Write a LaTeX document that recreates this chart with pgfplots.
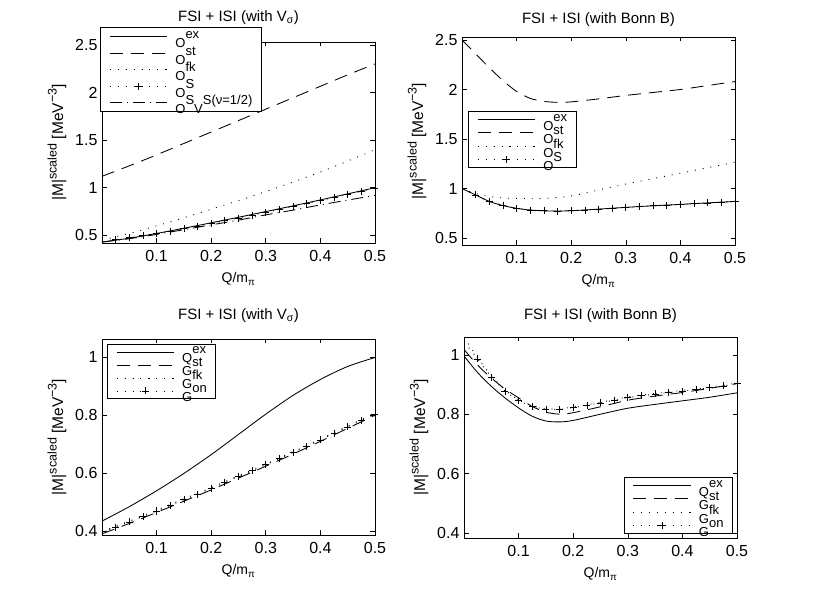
\documentclass[border=0pt]{standalone}
\usepackage{fontspec}
\setmainfont{Liberation Sans}
\usepackage{pgfplots}
\pgfplotsset{compat=1.18}
\newcommand{\legt}[2]{{\fontsize{13}{15}\selectfont\smash{\raisebox{-9pt}{#1}}#2}}
\newcommand{\ylab}{|M|\raisebox{0.42em}{\fontsize{12.5}{12.5}\selectfont scaled} [MeV\raisebox{0.42em}{\fontsize{12.5}{12.5}\selectfont −3}]}
\pgfplotsset{
  mstyle/.style={
    scale only axis, anchor=south west,
    xmin=0, xmax=0.5,
    xtick={0.1,0.2,0.3,0.4,0.5}, xticklabels={0.1,0.2,0.3,0.4,0.5},
    tick align=inside, major tick length=4.5pt,
    axis line style={line width=0.8pt},
    every tick/.style={black, line width=0.6pt},
    tick label style={font=\fontsize{16}{18}\selectfont},
    xticklabel shift=4pt, yticklabel shift=1pt,
    xlabel style={font=\fontsize{14}{16}\selectfont, yshift=-4pt},
    ylabel style={font=\fontsize{15.5}{17}\selectfont, yshift=2pt},
    title style={font=\fontsize{15}{17}\selectfont},
    xlabel={Q/m\textsubscript{π}},
    ylabel={\ylab},
    legend cell align=left,
    legend image code/.code={\draw[##1, mark repeat=2, mark phase=2] plot coordinates {(0pt,0pt) (28.5pt,0pt) (57pt,0pt)};},
    legend style={draw=black, line width=0.8pt, fill=white, inner xsep=9pt, inner ysep=1pt,
      row sep=0pt, column sep=8pt, font=\fontsize{13}{15}\selectfont},
  },
  sol/.style={black, line width=0.85pt, solid},
  dsh/.style={black, line width=0.85pt, dash pattern=on 13pt off 8pt},
  dtt/.style={black, line width=0.9pt, dash pattern=on 0.9pt off 7pt},
  ddt/.style={black, line width=0.85pt, dash pattern=on 12pt off 5pt on 1pt off 5pt},
  mrk/.style={black, line width=0.9pt, dash pattern=on 0.9pt off 7pt, mark=+, mark size=3.5pt,
    mark phase=2, mark options={solid, line width=0.7pt}},
}
\begin{document}
\begin{tikzpicture}
\path (0,0) rectangle (814pt,612pt);
% ---------------- top left
\begin{axis}[mstyle, at={(102pt,369pt)}, width=273pt, height=201pt,
  ymin=0.42, ymax=2.53, ytick={0.5,1,1.5,2,2.5}, yticklabels={0.5,1,1.5,2,2.5},
  title={FSI + ISI (with V\textsubscript{σ})}, title style={yshift=8pt},
  legend style={at={(-0.007,1.075)}, anchor=north west,
    nodes={inner sep=0pt, text height=10.25pt, text depth=6.25pt}}]
\addplot[sol, smooth] coordinates {(0,0.43)(0.05,0.47)(0.1,0.52)(0.15,0.575)(0.2,0.632)(0.25,0.69)(0.3,0.75)(0.35,0.81)(0.4,0.872)(0.45,0.936)(0.5,1.0)};
\addlegendentry{\legt{O}{ex}}
\addplot[dsh, smooth] coordinates {(0,1.12)(0.05,1.23)(0.1,1.345)(0.15,1.465)(0.2,1.585)(0.25,1.705)(0.3,1.825)(0.35,1.945)(0.4,2.065)(0.45,2.185)(0.5,2.30)};
\addlegendentry{\legt{O}{st}}
\addplot[dtt, smooth] coordinates {(0,0.45)(0.05,0.52)(0.1,0.6)(0.15,0.685)(0.2,0.775)(0.25,0.865)(0.3,0.96)(0.35,1.06)(0.4,1.165)(0.45,1.28)(0.5,1.40)};
\addlegendentry{\legt{O}{fk}}
\addplot[mrk] coordinates {(0,0.44)(0.025,0.455)(0.05,0.475)(0.075,0.497)(0.1,0.52)(0.125,0.545)(0.15,0.57)(0.175,0.597)(0.2,0.625)(0.225,0.653)(0.25,0.682)(0.275,0.712)(0.3,0.742)(0.325,0.772)(0.35,0.803)(0.375,0.835)(0.4,0.866)(0.425,0.898)(0.45,0.93)(0.475,0.962)(0.5,0.995)};
\addlegendentry{\legt{O}{S}}
\addplot[ddt, smooth] coordinates {(0,0.43)(0.05,0.465)(0.1,0.51)(0.15,0.56)(0.2,0.61)(0.25,0.66)(0.3,0.715)(0.35,0.765)(0.4,0.82)(0.45,0.87)(0.5,0.92)};
\addlegendentry{\legt{O}{S}\legt{V}{S(ν=1/2)}}
\end{axis}
% ---------------- top right
\begin{axis}[mstyle, at={(462pt,367pt)}, width=273pt, height=208pt,
  ymin=0.43, ymax=2.53, ytick={0.5,1,1.5,2,2.5}, yticklabels={0.5,1,1.5,2,2.5},
  title={FSI + ISI (with Bonn B)}, title style={yshift=1pt},
  legend style={at={(0.022,0.644)}, anchor=north west,
    nodes={inner sep=0pt, text height=8.75pt, text depth=4.75pt}}]
\addplot[sol, smooth] coordinates {(0,1.0)(0.025,0.935)(0.05,0.87)(0.075,0.828)(0.1,0.80)(0.125,0.783)(0.15,0.775)(0.175,0.773)(0.2,0.776)(0.25,0.792)(0.3,0.81)(0.35,0.826)(0.4,0.84)(0.45,0.855)(0.5,0.87)};
\addlegendentry{\legt{O}{ex}}
\addplot[dsh, smooth] coordinates {(0,2.5)(0.025,2.36)(0.05,2.22)(0.075,2.09)(0.1,1.98)(0.125,1.91)(0.15,1.88)(0.175,1.87)(0.2,1.875)(0.25,1.905)(0.3,1.94)(0.35,1.97)(0.4,2.0)(0.45,2.04)(0.5,2.08)};
\addlegendentry{\legt{O}{st}}
\addplot[dtt, smooth] coordinates {(0,1.0)(0.025,0.95)(0.05,0.92)(0.075,0.905)(0.1,0.9)(0.15,0.9)(0.2,0.925)(0.25,0.985)(0.3,1.045)(0.35,1.1)(0.4,1.155)(0.45,1.21)(0.5,1.265)};
\addlegendentry{\legt{O}{fk}}
\addplot[mrk] coordinates {(0,1.0)(0.025,0.935)(0.05,0.87)(0.075,0.828)(0.1,0.80)(0.125,0.783)(0.15,0.775)(0.175,0.773)(0.2,0.776)(0.225,0.783)(0.25,0.792)(0.275,0.80)(0.3,0.81)(0.325,0.818)(0.35,0.826)(0.375,0.833)(0.4,0.84)(0.425,0.847)(0.45,0.855)(0.475,0.862)(0.5,0.87)};
\addlegendentry{\legt{O}{S}}
\end{axis}
% ---------------- bottom left
\begin{axis}[mstyle, at={(102pt,77pt)}, width=273pt, height=196pt,
  ymin=0.386, ymax=1.064, ytick={0.4,0.6,0.8,1}, yticklabels={0.4,0.6,0.8,1},
  title={FSI + ISI (with V\textsubscript{σ})}, title style={yshift=7pt},
  legend style={at={(0.018,0.974)}, anchor=north west,
    nodes={inner sep=0pt, text height=8.5pt, text depth=4.5pt}}]
\addplot[sol, smooth] coordinates {(0,0.434)(0.05,0.484)(0.1,0.539)(0.15,0.599)(0.2,0.664)(0.25,0.734)(0.3,0.804)(0.35,0.869)(0.4,0.924)(0.45,0.969)(0.5,1.0)};
\addlegendentry{\legt{Q}{ex}}
\addplot[dsh, smooth] coordinates {(0,0.39)(0.05,0.426)(0.1,0.464)(0.15,0.503)(0.2,0.542)(0.25,0.583)(0.3,0.624)(0.35,0.666)(0.4,0.71)(0.45,0.755)(0.5,0.80)};
\addlegendentry{\legt{G}{st}}
\addplot[dtt, smooth] coordinates {(0,0.398)(0.05,0.434)(0.1,0.472)(0.15,0.511)(0.2,0.55)(0.25,0.591)(0.3,0.632)(0.35,0.674)(0.4,0.718)(0.45,0.763)(0.5,0.808)};
\addlegendentry{\legt{G}{fk}}
\addplot[mrk] coordinates {(0,0.395)(0.025,0.413)(0.05,0.431)(0.075,0.45)(0.1,0.469)(0.125,0.488)(0.15,0.508)(0.175,0.527)(0.2,0.547)(0.225,0.567)(0.25,0.588)(0.275,0.608)(0.3,0.629)(0.325,0.65)(0.35,0.671)(0.375,0.693)(0.4,0.715)(0.425,0.737)(0.45,0.76)(0.475,0.782)(0.5,0.805)};
\addlegendentry{\legt{G}{on}}
\end{axis}
% ---------------- bottom right
\begin{axis}[mstyle, at={(464pt,74pt)}, width=273pt, height=201pt,
  ymin=0.383, ymax=1.06, ytick={0.4,0.6,0.8,1}, yticklabels={0.4,0.6,0.8,1},
  title={FSI + ISI (with Bonn B)}, title style={yshift=5pt},
  legend style={at={(0.985,0.02)}, anchor=south east,
    nodes={inner sep=0pt, text height=8.75pt, text depth=4.75pt}}]
\addplot[sol, smooth] coordinates {(0,0.996)(0.025,0.94)(0.05,0.894)(0.075,0.855)(0.1,0.821)(0.125,0.793)(0.15,0.777)(0.175,0.774)(0.2,0.779)(0.25,0.80)(0.3,0.82)(0.35,0.833)(0.4,0.845)(0.45,0.857)(0.5,0.872)};
\addlegendentry{\legt{Q}{ex}}
\addplot[dsh, smooth] coordinates {(0,1.018)(0.025,0.965)(0.05,0.922)(0.075,0.885)(0.1,0.855)(0.125,0.826)(0.15,0.807)(0.175,0.80)(0.2,0.805)(0.25,0.825)(0.3,0.847)(0.35,0.861)(0.4,0.873)(0.45,0.887)(0.5,0.903)};
\addlegendentry{\legt{G}{st}}
\addplot[dtt, smooth] coordinates {(0,1.06)(0.025,0.99)(0.05,0.93)(0.075,0.882)(0.1,0.848)(0.125,0.828)(0.15,0.819)(0.175,0.818)(0.2,0.824)(0.25,0.84)(0.3,0.858)(0.35,0.87)(0.4,0.88)(0.45,0.891)(0.5,0.905)};
\addlegendentry{\legt{G}{fk}}
\addplot[mrk] coordinates {(0,1.045)(0.025,0.986)(0.05,0.925)(0.075,0.878)(0.1,0.845)(0.125,0.825)(0.15,0.817)(0.175,0.816)(0.2,0.822)(0.225,0.83)(0.25,0.838)(0.275,0.847)(0.3,0.856)(0.325,0.862)(0.35,0.868)(0.375,0.873)(0.4,0.878)(0.425,0.883)(0.45,0.889)(0.475,0.895)(0.5,0.903)};
\addlegendentry{\legt{G}{on}}
\end{axis}
\end{tikzpicture}
\end{document}
